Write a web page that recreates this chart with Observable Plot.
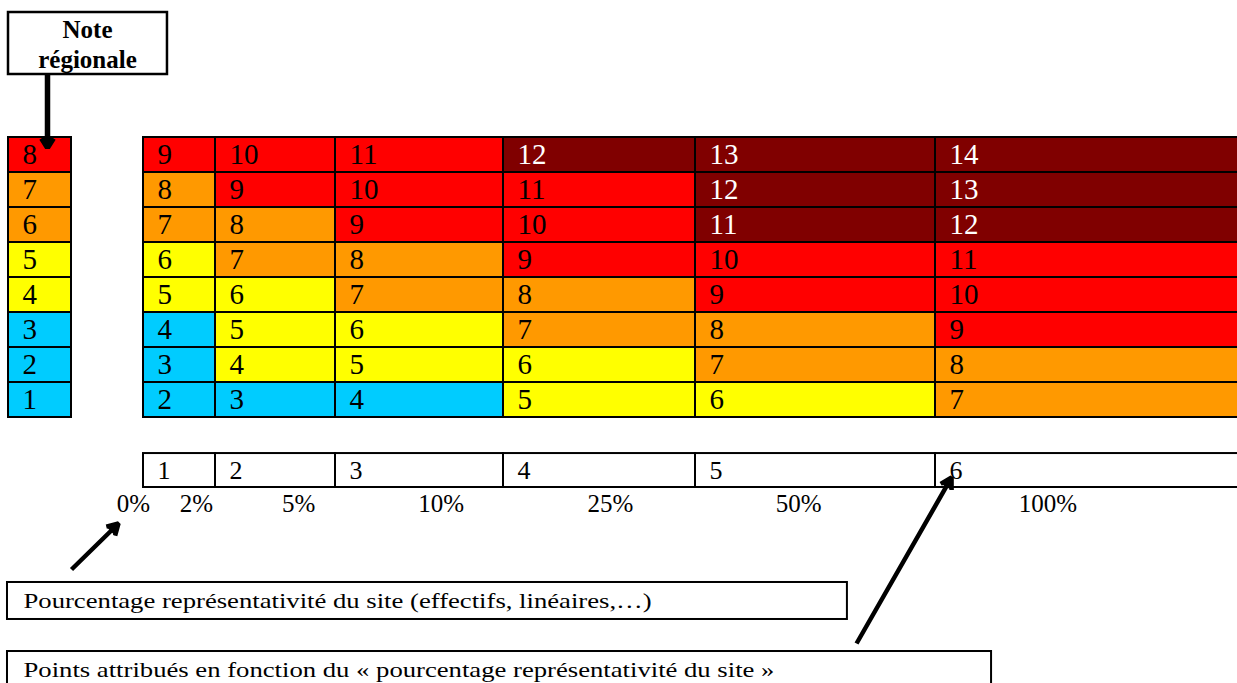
<!DOCTYPE html>
<html>
<head>
<meta charset="utf-8">
<script src="https://cdn.jsdelivr.net/npm/d3@7"></script>
<script src="https://cdn.jsdelivr.net/npm/@observablehq/plot@0.6"></script>
<style>
  body { margin: 0; background: #ffffff; }
  #chart svg { display: block; }
</style>
</head>
<body>
<div id="chart"></div>
<script>
// ---------------- DATA ----------------
// Regional note (left column), bottom to top
const regionalNotes = [1, 2, 3, 4, 5, 6, 7, 8];
const regionalLevels = ["bleu", "bleu", "bleu", "jaune", "jaune", "orange", "orange", "rouge"];

// Points attributed by "pourcentage représentativité du site"
const points = [1, 2, 3, 4, 5, 6];
const percentLabels = ["0%", "2%", "5%", "10%", "25%", "50%", "100%"];

// Resulting grid values per points column (rows = regional notes 1..8)
const col1Values = [2, 3, 4, 5, 6, 7, 8, 9];
const col2Values = [3, 4, 5, 6, 7, 8, 9, 10];
const col3Values = [4, 5, 6, 7, 8, 9, 10, 11];
const col4Values = [5, 6, 7, 8, 9, 10, 11, 12];
const col5Values = [6, 7, 8, 9, 10, 11, 12, 13];
const col6Values = [7, 8, 9, 10, 11, 12, 13, 14];

// Colour class of each grid cell (rows = regional notes 1..8)
const col1Levels = ["bleu", "bleu", "bleu", "jaune", "jaune", "orange", "orange", "rouge"];
const col2Levels = ["bleu", "jaune", "jaune", "jaune", "orange", "orange", "rouge", "rouge"];
const col3Levels = ["bleu", "jaune", "jaune", "orange", "orange", "rouge", "rouge", "rouge"];
const col4Levels = ["jaune", "jaune", "orange", "orange", "rouge", "rouge", "rouge", "bordeaux"];
const col5Levels = ["jaune", "orange", "orange", "rouge", "rouge", "bordeaux", "bordeaux", "bordeaux"];
const col6Levels = ["orange", "orange", "rouge", "rouge", "rouge", "bordeaux", "bordeaux", "bordeaux"];

const levelNames = ["bleu", "jaune", "orange", "rouge", "bordeaux"];

// Annotation texts
const noteTitle = "Note\nrégionale";
const captionPercent = "Pourcentage représentativité du site (effectifs, linéaires,…)";
const captionPoints = "Points attribués en fonction du « pourcentage représentativité du site »";

// ---------------- LAYOUT (positions & styles, kept apart from the data) ----------------
// x in "column units": left column spans [-2,-1], points column i spans [i-1, i]
const xDomain = [-2, -1, 0, 1, 2, 3, 4, 5, 6];
const xRange = [8, 71, 143, 215, 335, 503, 695, 935, 1238];
// y in "row units": regional note r spans [r-1, r]
const yDomain = [0, 8];
const yRange = [417, 137];
const levelColors = ["#00CCFF", "#FFFF00", "#FF9900", "#FF0000", "#800000"];

const layout = {
  leftCol: [-2, -1],
  pointsRow: [-2, -1.03],
  percentX: [-0.139, 0.736, 1.694, 2.629, 3.557, 4.43, 5.371],
  percentY: -2.47,
  noteBox: {x1: -2, x2: 0.333, y1: 9.8, y2: 11.571, tx: -0.778, ty: 10.69},
  box1: {x1: -2.016, x2: 4.633, y1: -5.771, y2: -4.714, tx: -1.762, ty: -5.26},
  box2: {x1: -2.016, x2: 5.185, y1: -7.9, y2: -6.686, tx: -1.762, ty: -7.21},
  thickArrows: [
    {x1: -1.381, y1: 9.8, x2: -1.381, y2: 7.714}
  ],
  thinArrows: [
    {x1: -1.0, y1: -4.343, x2: -0.347, y2: -3.029},
    {x1: 4.671, y1: -6.457, x2: 5.053, y2: -1.714}
  ],
  captionStretch: 1.27
};

// ---------------- TABLES built from the arrays ----------------
const leftCells = regionalNotes.map((note, i) => ({note, value: note, level: regionalLevels[i]}));
const colValues = [col1Values, col2Values, col3Values, col4Values, col5Values, col6Values];
const colLevels = [col1Levels, col2Levels, col3Levels, col4Levels, col5Levels, col6Levels];
const gridCells = [];
points.forEach((p, c) => {
  regionalNotes.forEach((note, r) => {
    gridCells.push({col: p - 1, point: p, note, value: colValues[c][r], level: colLevels[c][r]});
  });
});
const pointCells = points.map(p => ({col: p - 1, point: p}));
const percentTicks = percentLabels.map((label, i) => ({label, x: layout.percentX[i]}));
const boxes = [
  {...layout.box1, text: captionPercent},
  {...layout.box2, text: captionPoints}
];

const serif = "'Liberation Serif', 'Times New Roman', Times, serif";
const cellFont = 29;

const chart = Plot.plot({
  width: 1237,
  height: 683,
  margin: 0,
  style: {fontFamily: serif, background: "#ffffff", color: "black", overflow: "hidden"},
  x: {type: "linear", domain: xDomain, range: xRange, axis: null},
  y: {type: "linear", domain: yDomain, range: yRange, axis: null},
  color: {type: "ordinal", domain: levelNames, range: levelColors},
  marks: [
    // Left column: regional note
    Plot.rect(leftCells, {
      x1: layout.leftCol[0], x2: layout.leftCol[1],
      y1: d => d.note - 1, y2: d => d.note,
      fill: "level", stroke: "black", strokeWidth: 2
    }),
    Plot.text(leftCells, {
      x: layout.leftCol[0], y: d => d.note - 0.5, text: d => String(d.value),
      textAnchor: "start", dx: 14, fontSize: cellFont, fill: "black"
    }),
    // Main grid
    Plot.rect(gridCells, {
      x1: "col", x2: d => d.col + 1,
      y1: d => d.note - 1, y2: d => d.note,
      fill: "level", stroke: "black", strokeWidth: 2
    }),
    Plot.text(gridCells.filter(d => d.level !== "bordeaux"), {
      x: "col", y: d => d.note - 0.5, text: d => String(d.value),
      textAnchor: "start", dx: 14, fontSize: cellFont, fill: "black"
    }),
    Plot.text(gridCells.filter(d => d.level === "bordeaux"), {
      x: "col", y: d => d.note - 0.5, text: d => String(d.value),
      textAnchor: "start", dx: 14, fontSize: cellFont, fill: "white"
    }),
    // Points row
    Plot.rect(pointCells, {
      x1: "col", x2: d => d.col + 1,
      y1: layout.pointsRow[0], y2: layout.pointsRow[1],
      fill: "white", stroke: "black", strokeWidth: 2
    }),
    Plot.text(pointCells, {
      x: "col", y: (layout.pointsRow[0] + layout.pointsRow[1]) / 2, text: d => String(d.point),
      textAnchor: "start", dx: 14, fontSize: 26, fill: "black"
    }),
    // Percentage labels
    Plot.text(percentTicks, {
      x: "x", y: layout.percentY, text: "label",
      textAnchor: "middle", fontSize: 25, fill: "black"
    }),
    // "Note régionale" box
    Plot.rect([layout.noteBox], {
      x1: "x1", x2: "x2", y1: "y1", y2: "y2",
      fill: "white", stroke: "black", strokeWidth: 2.5
    }),
    Plot.text([layout.noteBox], {
      x: "tx", y: "ty", text: () => noteTitle,
      textAnchor: "middle", fontSize: 25, fontWeight: "bold", lineHeight: 1.2, fill: "black"
    }),
    // Caption boxes
    Plot.rect(boxes, {
      x1: "x1", x2: "x2", y1: "y1", y2: "y2",
      fill: "white", stroke: "black", strokeWidth: 2
    }),
    Plot.text(boxes, {
      x: "tx", y: "ty", text: "text",
      textAnchor: "start", fontSize: 21, fill: "black"
    }),
    // Arrows (filled heads)
    Plot.arrow(layout.thickArrows, {
      x1: "x1", y1: "y1", x2: "x2", y2: "y2",
      stroke: "black", fill: "black", strokeWidth: 5.5,
      headLength: 3.0, headAngle: 64, strokeLinecap: "butt"
    }),
    Plot.arrow(layout.thinArrows, {
      x1: "x1", y1: "y1", x2: "x2", y2: "y2",
      stroke: "black", fill: "black", strokeWidth: 4.5,
      headLength: 4.2, headAngle: 60, strokeLinecap: "butt"
    })
  ]
});

// The reference captions are drawn horizontally wider than their height suggests
d3.select(chart).selectAll("text").each(function () {
  const s = this.textContent;
  if (s === captionPercent || s === captionPoints) {
    const t = this.getAttribute("transform");
    if (t && t.includes("translate")) this.setAttribute("transform", `${t} scale(${layout.captionStretch},1)`);
  }
});

document.getElementById("chart").appendChild(chart);
</script>
</body>
</html>
